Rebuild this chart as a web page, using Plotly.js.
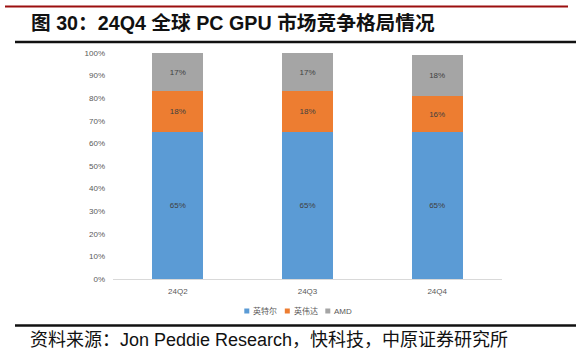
<!DOCTYPE html>
<html><head><meta charset="utf-8">
<script src="https://cdn.plot.ly/plotly-3.0.1.min.js"></script>
<style>html,body{margin:0;padding:0;background:#fff;}</style>
</head><body>
<div id="chart" style="width:581px;height:357px"></div>
<script>
// ---- data ----
const categories = ['24Q2', '24Q3', '24Q4'];
const seriesNames = ['英特尔', '英伟达', 'AMD'];
const intelShare = [65, 65, 65];
const nvidiaShare = [18, 18, 16];
const amdShare = [17, 17, 18];
const yTickValues = [0, 10, 20, 30, 40, 50, 60, 70, 80, 90, 100];
const yTickLabels = ['0%', '10%', '20%', '30%', '40%', '50%', '60%', '70%', '80%', '90%', '100%'];
const titleText = '图 30：24Q4 全球 PC GPU 市场竞争格局情况';
const sourceText = '资料来源：Jon Peddie Research，快科技，中原证券研究所';

// ---- style / layout ----
const colors = ['#5B9BD5', '#ED7D31', '#A5A5A5'];
const W = 581, H = 357, L = 113, R = 502, T = 53, B = 279;
const px = x => (x - L) / (R - L);
const py = y => (B - y) / (B - T);
const FONT = 'Liberation Sans, Arial, Noto Sans CJK SC, sans-serif';

const seriesValues = [intelShare, nvidiaShare, amdShare];
const traces = seriesValues.map((vals, i) => ({
  type: 'bar',
  name: seriesNames[i],
  x: categories,
  y: vals,
  width: 0.395,
  marker: {color: colors[i], line: {width: 0}},
  text: vals.map(v => v + '%'),
  textposition: 'inside',
  insidetextanchor: 'middle',
  textangle: 0,
  constraintext: 'none',
  textfont: {family: FONT, size: 8, color: '#404040'},
  hoverinfo: 'none',
  showlegend: false
}));

// custom legend (compact like the original)
const legStart = 244.3, legStep = 40.5, legY = 311;
const shapes = [];
const annotations = [];
seriesNames.forEach((n, i) => {
  const x0 = legStart + i * legStep;
  shapes.push({type: 'rect', xref: 'paper', yref: 'paper',
    x0: px(x0), x1: px(x0 + 5), y0: py(legY - 2.5), y1: py(legY + 2.5),
    fillcolor: colors[i], line: {width: 0}});
  annotations.push({xref: 'paper', yref: 'paper', x: px(x0 + 7), y: py(legY),
    xanchor: 'left', yanchor: 'middle', showarrow: false, text: n,
    font: {family: FONT, size: 8, color: '#595959'}});
});

// decorative lines
shapes.push({type: 'line', xref: 'paper', yref: 'paper', x0: px(5), x1: px(568), y0: py(6.5), y1: py(6.5),
  line: {color: '#9B0F0F', width: 2}});
shapes.push({type: 'line', xref: 'paper', yref: 'paper', x0: px(15), x1: px(576), y0: py(42), y1: py(42),
  line: {color: '#111111', width: 2.5}});
shapes.push({type: 'line', xref: 'paper', yref: 'paper', x0: px(15), x1: px(576), y0: py(325.5), y1: py(325.5),
  line: {color: '#111111', width: 2.5}});

annotations.push({xref: 'paper', yref: 'paper', x: px(29), y: py(23), xanchor: 'left', yanchor: 'middle',
  showarrow: false, text: '<b>' + titleText + '</b>',
  font: {family: FONT, size: 19.7, color: '#111111'}});
annotations.push({xref: 'paper', yref: 'paper', x: px(28), y: py(340), xanchor: 'left', yanchor: 'middle',
  showarrow: false, text: sourceText,
  font: {family: FONT, size: 18, color: '#111111'}});

const layout = {
  width: W, height: H,
  margin: {l: L, r: W - R, t: T, b: H - B, pad: 0},
  paper_bgcolor: '#ffffff', plot_bgcolor: '#ffffff',
  barmode: 'stack',
  showlegend: false,
  font: {family: FONT, size: 8, color: '#595959'},
  xaxis: {
    type: 'category', range: [-0.5, 2.5],
    showline: true, linecolor: '#D9D9D9', linewidth: 1,
    showgrid: false, zeroline: false, ticks: '',
    ticklabelstandoff: 4,
    tickfont: {family: FONT, size: 8, color: '#595959'},
    fixedrange: true
  },
  yaxis: {
    range: [0, 100], tickvals: yTickValues, ticktext: yTickLabels,
    showline: false, showgrid: false, zeroline: false, ticks: '',
    ticklabelstandoff: 7,
    tickfont: {family: FONT, size: 8, color: '#595959'},
    fixedrange: true
  },
  shapes: shapes,
  annotations: annotations
};

Plotly.newPlot('chart', traces, layout, {displayModeBar: false, staticPlot: true});
</script>
</body></html>
